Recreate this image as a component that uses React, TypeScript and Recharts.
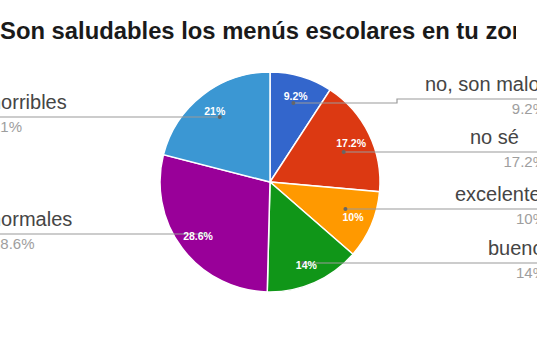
import React from "react";
import { PieChart, Pie, Cell } from "recharts";

const categories = ["no, son malos", "no sé", "excelentes", "buenos", "normales", "horribles"];
const shares = [9.2, 17.2, 10, 14, 28.6, 21];
const colors = ["#3366cc", "#dc3912", "#ff9900", "#109618", "#990099", "#3b97d3"];
const title = "¿Son saludables los menús escolares en tu zona?";

// label layout (callout positions)
const lineY = [99, 152, 209, 263, 234, 117];
const dotY = [103, 152, 209, 263, 234, 117];
const rightLabelX = [425, 470, 455, 488];

const data = categories.map((name, i) => ({ name, value: shares[i] }));

const FONT = "'Liberation Sans', Arial, Helvetica, sans-serif";
const RAD = Math.PI / 180;

const fmt = (p: number) => `${Number((p * 100).toFixed(1))}%`;

const renderLabel = (props: any) => {
  const { cx, cy, midAngle, outerRadius, percent, index, name } = props;
  const cos = Math.cos(-midAngle * RAD);
  const sin = Math.sin(-midAngle * RAD);
  const tr = outerRadius * 0.82;
  const tx = cx + tr * cos;
  const ty = cy + tr * sin;
  const dr = outerRadius * 0.745;
  const dx = cx + dr * cos;
  const dy = dotY[index];
  const ly = lineY[index];
  const right = cos >= 0;
  const label = fmt(percent);
  let pts: string;
  if (right) {
    pts = `${dx},${dy} 397,${dy} 397,${ly} 540,${ly}`;
  } else {
    pts = `${dx},${dy} -5,${ly}`;
  }
  return (
    <g key={`lbl-${index}`}>
      <polyline points={pts} fill="none" stroke="#9a9a9a" strokeWidth={1.2} />
      <circle cx={dx} cy={dy} r={2} fill="#666" />
      <text
        x={tx}
        y={ty}
        textAnchor="middle"
        dominantBaseline="central"
        fill="#ffffff"
        fontFamily={FONT}
        fontWeight="bold"
        fontSize={10.5}
      >
        {label}
      </text>
      {right ? (
        <>
          <text x={rightLabelX[index]} y={ly - 8} textAnchor="start" fill="#454545" fontFamily={FONT} fontSize={20}>
            {name}
          </text>
          <text x={546} y={ly + 15} textAnchor="end" fill="#9e9e9e" fontFamily={FONT} fontSize={15}>
            {label}
          </text>
        </>
      ) : (
        <>
          <text x={-10} y={ly - 8} textAnchor="start" fill="#454545" fontFamily={FONT} fontSize={20}>
            {name}
          </text>
          <text x={-8} y={ly + 15} textAnchor="start" fill="#9e9e9e" fontFamily={FONT} fontSize={15}>
            {label}
          </text>
        </>
      )}
    </g>
  );
};

export default function App() {
  return (
    <div style={{ position: "absolute", left: 0, top: 0, width: 537, height: 358, background: "#fff", overflow: "hidden" }}>
      <PieChart width={537} height={358} margin={{ top: 0, right: 0, bottom: 0, left: 0 }}>
        <Pie
          data={data}
          dataKey="value"
          nameKey="name"
          cx={270}
          cy={182}
          outerRadius={110}
          startAngle={90}
          endAngle={-270}
          stroke="#ffffff"
          strokeWidth={1.5}
          label={renderLabel}
          labelLine={false}
          isAnimationActive={false}
        >
          {data.map((d, i) => (
            <Cell key={d.name} fill={colors[i]} />
          ))}
        </Pie>
      </PieChart>
      <div
        style={{
          position: "absolute",
          left: 0,
          top: 19,
          width: 516,
          overflow: "hidden",
          whiteSpace: "nowrap",
          fontFamily: FONT,
          fontWeight: "bold",
          fontSize: 23.8,
          lineHeight: "24px",
          color: "#1a1a1a",
        }}
      >
        <span style={{ position: "relative", left: -14.5 }}>{title}</span>
      </div>
    </div>
  );
}
